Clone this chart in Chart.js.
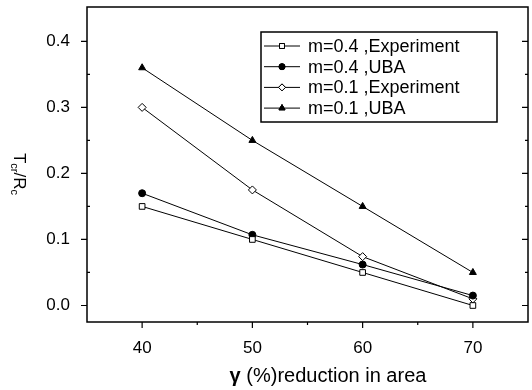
<!DOCTYPE html>
<html>
<head>
<meta charset="utf-8">
<script src="https://cdn.jsdelivr.net/npm/chart.js@4"></script>
<style>
  html, body { margin: 0; padding: 0; background: #fff; }
  #wrap { width: 532px; height: 390px; }
</style>
</head>
<body>
<div id="wrap"><canvas id="chart" width="532" height="390"></canvas></div>
<script>
// Data
const reduction = [40, 50, 60, 70];
const m04Experiment = [0.15, 0.10, 0.05, 0.0];
const m04UBA = [0.17, 0.107, 0.062, 0.015];
const m01Experiment = [0.30, 0.175, 0.074, 0.01];
const m01UBA = [0.36, 0.25, 0.15, 0.05];
const seriesLabels = ['m=0.4 ,Experiment', 'm=0.4 ,UBA', 'm=0.1 ,Experiment', 'm=0.1 ,UBA'];
const xTicks = [40, 50, 60, 70];
const xMinorTicks = [45, 55, 65];
const yTicks = [0.0, 0.1, 0.2, 0.3, 0.4];
const yMinorTicks = [0.05, 0.15, 0.25, 0.35];

const FONT = '"Liberation Sans", Arial, sans-serif';

function points(values) {
    return reduction.map((x, i) => ({ x: x, y: values[i] }));
}

function makeSet(label, values, style, fill) {
    return {
        label: label,
        data: points(values),
        borderColor: '#000',
        borderWidth: 1,
        pointStyle: style,
        pointRadius: style === 'circle' ? 3.5 : 4,
        pointBackgroundColor: fill ? '#000' : '#fff',
        pointBorderColor: '#000',
        pointBorderWidth: 1,
        tension: 0
    };
}

// Frame, ticks, axis titles and the boxed legend
const decorations = {
    id: 'decorations',
    afterDraw(chart) {
        const ctx = chart.ctx;
        const a = chart.chartArea;
        const xs = chart.scales.x, ys = chart.scales.y;
        ctx.save();
        ctx.strokeStyle = '#000';
        ctx.lineWidth = 1.5;
        ctx.strokeRect(a.left, a.top, a.right - a.left, a.bottom - a.top);

        ctx.lineWidth = 1.2;
        ctx.beginPath();
        xTicks.forEach(v => {
            const px = xs.getPixelForValue(v);
            ctx.moveTo(px, a.bottom); ctx.lineTo(px, a.bottom + 6);
        });
        xMinorTicks.forEach(v => {
            const px = xs.getPixelForValue(v);
            ctx.moveTo(px, a.bottom); ctx.lineTo(px, a.bottom + 3);
        });
        yTicks.forEach(v => {
            const py = ys.getPixelForValue(v);
            ctx.moveTo(a.left - 6, py); ctx.lineTo(a.left, py);
            ctx.moveTo(a.right, py); ctx.lineTo(a.right - 6, py);
        });
        yMinorTicks.forEach(v => {
            const py = ys.getPixelForValue(v);
            ctx.moveTo(a.left, py); ctx.lineTo(a.left + 3, py);
            ctx.moveTo(a.right, py); ctx.lineTo(a.right - 3, py);
        });
        ctx.stroke();

        // x axis title
        ctx.fillStyle = '#000';
        ctx.textBaseline = 'alphabetic';
        ctx.textAlign = 'left';
        ctx.font = 'bold 20px ' + FONT;
        const g = 'γ';
        const rest = ' (%)reduction in area';
        const gw = ctx.measureText(g).width;
        ctx.font = '20px ' + FONT;
        const rw = ctx.measureText(rest).width;
        let tx = 328 - (gw + rw) / 2;
        ctx.font = 'bold 20px ' + FONT;
        ctx.fillText(g, tx, 382);
        ctx.font = '20px ' + FONT;
        ctx.fillText(rest, tx + gw, 382);

        // y axis title T_cr/R_c
        ctx.translate(20, 174);
        ctx.rotate(Math.PI / 2);
        const parts = [['T', 17, 0], ['cr', 11, 3], ['/R', 17, 0], ['c', 11, 3]];
        let total = 0;
        parts.forEach(p => { ctx.font = p[1] + 'px ' + FONT; total += ctx.measureText(p[0]).width; });
        let px = -total / 2;
        parts.forEach(p => {
            ctx.font = p[1] + 'px ' + FONT;
            ctx.fillText(p[0], px, 6 + p[2]);
            px += ctx.measureText(p[0]).width;
        });
        ctx.setTransform(1, 0, 0, 1, 0, 0);

        // legend box
        const bx = 261, by = 32, bw = 236, bh = 90;
        ctx.fillStyle = '#fff';
        ctx.fillRect(bx, by, bw, bh);
        ctx.lineWidth = 1.5;
        ctx.strokeRect(bx, by, bw, bh);
        ctx.font = '18px ' + FONT;
        ctx.textBaseline = 'middle';
        chart.data.datasets.forEach((ds, i) => {
            const cy = by + 14 + i * 20.7;
            ctx.lineWidth = 1;
            ctx.strokeStyle = '#000';
            ctx.beginPath();
            ctx.moveTo(bx + 3, cy); ctx.lineTo(bx + 39, cy);
            ctx.stroke();
            Chart.helpers.drawPoint(ctx, {
                pointStyle: ds.pointStyle,
                radius: ds.pointStyle === 'circle' ? 3 : 3.5,
                borderWidth: 1,
                rotation: 0
            }, bx + 21, cy);
            ctx.fillStyle = ds.pointBackgroundColor;
            ctx.fill();
            ctx.stroke();
            ctx.fillStyle = '#000';
            ctx.fillText(ds.label, bx + 47, cy + 1);
        });
        ctx.restore();
    }
};

new Chart(document.getElementById('chart'), {
    type: 'line',
    data: {
        datasets: [
            makeSet(seriesLabels[0], m04Experiment, 'rect', false),
            makeSet(seriesLabels[1], m04UBA, 'circle', true),
            makeSet(seriesLabels[2], m01Experiment, 'rectRot', false),
            makeSet(seriesLabels[3], m01UBA, 'triangle', true)
        ]
    },
    options: {
        responsive: false,
        animation: false,
        layout: { autoPadding: false, padding: { left: 0, right: 4, top: 7, bottom: 0 } },
        plugins: {
            legend: { display: false },
            tooltip: { enabled: false }
        },
        scales: {
            x: {
                type: 'linear',
                min: 35,
                max: 75,
                afterBuildTicks: scale => { scale.ticks = xTicks.map(v => ({ value: v })); },
                afterFit: scale => {
                    scale.height = 68;
                    scale.paddingLeft = 0;
                    scale.paddingRight = 0;
                },
                grid: { display: false },
                border: { display: false },
                ticks: {
                    color: '#000',
                    padding: 8,
                    font: { family: FONT, size: 17 }
                }
            },
            y: {
                min: -0.025,
                max: 0.452,
                afterBuildTicks: scale => { scale.ticks = yTicks.map(v => ({ value: v })); },
                afterFit: scale => {
                    scale.width = 87;
                    scale.paddingTop = 0;
                    scale.paddingBottom = 0;
                },
                grid: { display: false },
                border: { display: false },
                ticks: {
                    color: '#000',
                    padding: 9,
                    font: { family: FONT, size: 17 },
                    callback: v => v.toFixed(1)
                }
            }
        }
    },
    plugins: [decorations]
});
</script>
</body>
</html>
